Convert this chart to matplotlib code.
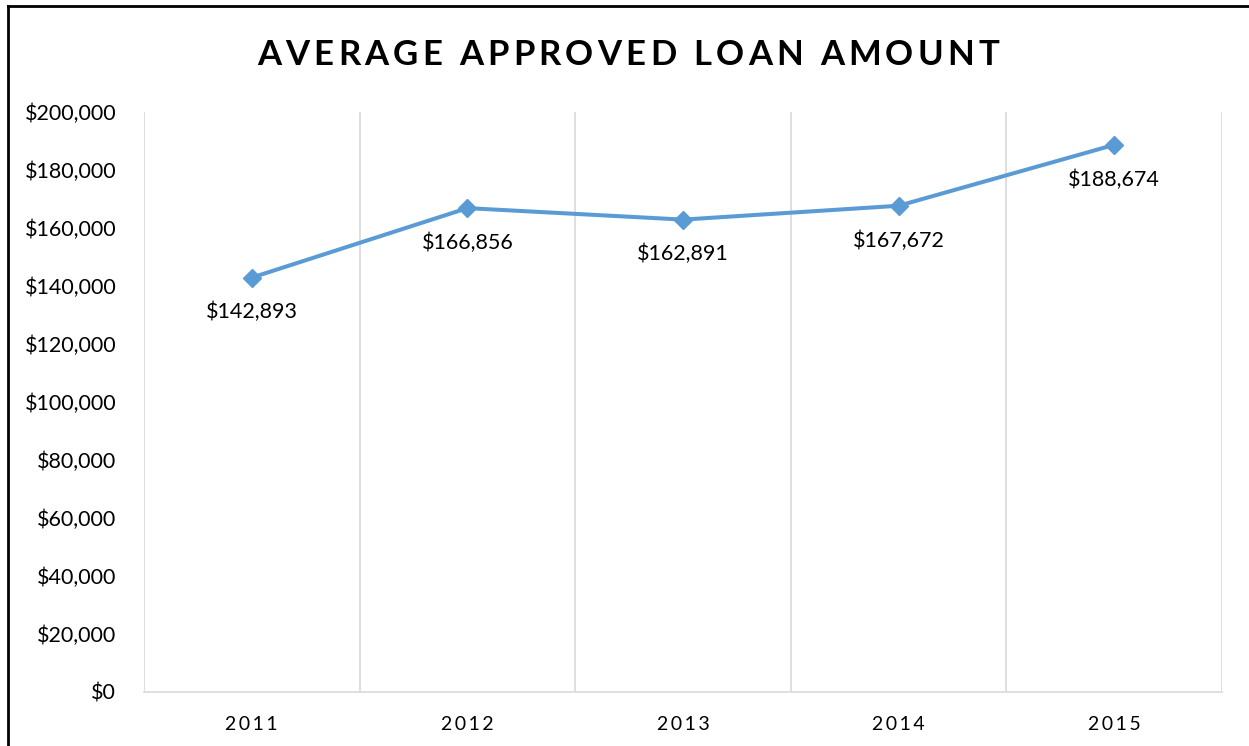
import numpy as np
import matplotlib
matplotlib.use("Agg")
import matplotlib.pyplot as plt
from matplotlib.lines import Line2D

years = ["2011", "2012", "2013", "2014", "2015"]
amounts = [142893, 166856, 162891, 167672, 188674]
yticks = list(range(0, 200001, 20000))

plt.rcParams['font.family'] = ['Lato', 'DejaVu Sans']

W, H = 1249, 746
fig = plt.figure(figsize=(W / 100, H / 100), dpi=100)
ax = fig.add_axes([144 / W, 1 - 692 / H, (1222 - 144) / W, (692 - 112) / H])

x = np.arange(len(years))
ax.plot(x, amounts, color='#5B9BD5', lw=2.9, marker='D', ms=9.5, zorder=5)
for xi, v in zip(x, amounts):
    ax.annotate('${:,}'.format(v), (xi, v), xytext=(0, -25), textcoords='offset points',
                ha='center', va='center', fontsize=15.5, color='#000000')

ax.set_xlim(-0.5, len(years) - 0.5)
ax.set_ylim(0, 200000)
ax.set_yticks(yticks)
ax.set_yticklabels(['${:,}'.format(t) for t in yticks], fontsize=15.5)
ax.set_xticks(x)
ax.set_xticklabels(['\u2009'.join(y) for y in years], fontsize=14)
ax.tick_params(length=0)
ax.tick_params(axis='y', pad=20)
ax.tick_params(axis='x', pad=17)

for b in np.arange(-0.5, len(years), 1.0):
    ax.axvline(b, color='#D9D9D9', lw=1.2, zorder=1)
for s in ['top', 'left', 'right']:
    ax.spines[s].set_visible(False)
ax.spines['bottom'].set_color('#D9D9D9')
ax.spines['bottom'].set_linewidth(1.2)

# title with letter spacing: place characters one by one
title = 'AVERAGE APPROVED LOAN AMOUNT'
tsize, track = 25, 4.2   # pt, px between letters
renderer = fig.canvas.get_renderer()
def char_w(c):
    if c == ' ':
        t = fig.text(0, 0, 'A A', fontsize=tsize, fontweight='bold')
        t2 = fig.text(0, 0, 'AA', fontsize=tsize, fontweight='bold')
        w = t.get_window_extent(renderer).width - t2.get_window_extent(renderer).width
        t.remove(); t2.remove()
        return w
    t = fig.text(0, 0, c, fontsize=tsize, fontweight='bold')
    w = t.get_window_extent(renderer).width
    t.remove()
    return w
widths = [char_w(c) for c in title]
total = sum(widths) + track * (len(title) - 1)
xpos = 628 - total / 2
for c, w in zip(title, widths):
    if c != ' ':
        fig.text(xpos / W, 1 - 55 / H, c, ha='left', va='center', fontsize=tsize, fontweight='bold')
    xpos += w + track

# frame edges visible in the crop
fig.add_artist(Line2D([8 / W, 8 / W], [0, 1 - 6 / H], color='black', lw=2, transform=fig.transFigure))
fig.add_artist(Line2D([8 / W, 1], [1 - 6 / H, 1 - 6 / H], color='black', lw=2, transform=fig.transFigure))

fig.savefig('out.png', dpi=100)
